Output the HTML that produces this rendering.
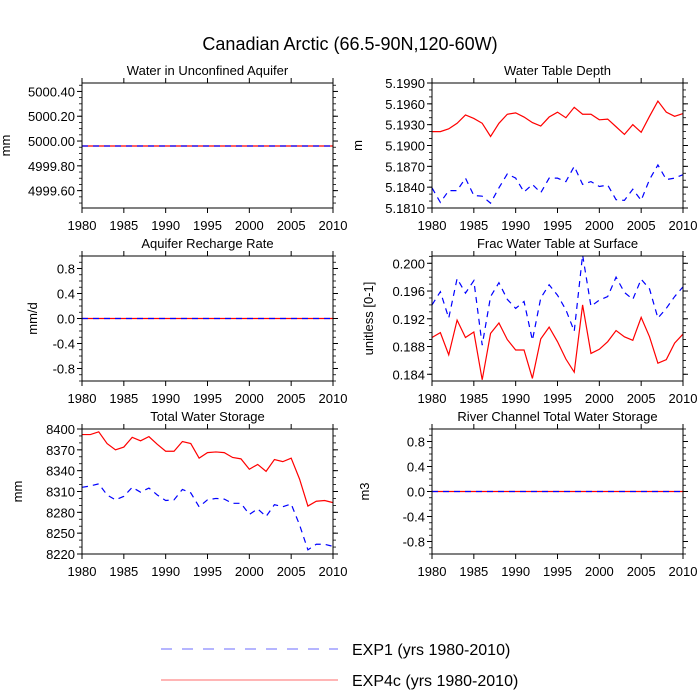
<!DOCTYPE html>
<html><head><meta charset="utf-8"><style>
html,body{margin:0;padding:0;background:#fff;}
svg{display:block;font-family:"Liberation Sans",Arial,sans-serif;}
</style></head><body>
<svg id="chart" width="700" height="700" viewBox="0 0 700 700" xmlns="http://www.w3.org/2000/svg">
<text x="350" y="50" text-anchor="middle" font-size="18">Canadian Arctic (66.5-90N,120-60W)</text>
<g id="panels"></g>
<g>
<line x1="161" y1="649" x2="338" y2="649" stroke="#6b6bff" stroke-width="1" stroke-dasharray="11,10"/>
<text x="352" y="655" font-size="16">EXP1 (yrs 1980-2010)</text>
<line x1="161" y1="680" x2="338" y2="680" stroke="#ff6b6b" stroke-width="1"/>
<text x="352" y="686" font-size="16">EXP4c (yrs 1980-2010)</text>
</g>
</svg>
<script>
const years = [];
for (let y = 1980; y <= 2010; y++) years.push(y);
const xTickLabels = [1980,1985,1990,1995,2000,2005,2010];

const aquiferExp1 = Array(31).fill(4999.96);
const aquiferExp4c = Array(31).fill(4999.96);
const rechargeExp1 = Array(31).fill(0);
const rechargeExp4c = Array(31).fill(0);
const riverExp1 = Array(31).fill(0);
const riverExp4c = Array(31).fill(0);

const wtdExp4c = [5.1920,5.1920,5.1924,5.1932,5.1944,5.1939,5.1932,5.1913,5.1932,5.1945,5.1947,5.1941,5.1933,5.1928,5.1941,5.1948,5.1940,5.1955,5.1945,5.1945,5.1937,5.1938,5.1927,5.1916,5.1930,5.1919,5.1942,5.1964,5.1948,5.1942,5.1946];
const wtdExp1 = [5.1839,5.1818,5.1835,5.1835,5.1853,5.1828,5.1827,5.1817,5.1839,5.1859,5.1853,5.1833,5.1844,5.1832,5.1853,5.1853,5.1848,5.1870,5.1844,5.1848,5.1841,5.1843,5.1822,5.1821,5.1837,5.1821,5.1851,5.1872,5.1851,5.1853,5.1858];

const fracExp1 = [0.1940,0.1959,0.1921,0.1978,0.1957,0.1975,0.1882,0.1952,0.1972,0.1948,0.1935,0.1945,0.1889,0.1950,0.1969,0.1954,0.1933,0.1902,0.2012,0.1938,0.1947,0.1952,0.1980,0.1958,0.1948,0.1977,0.1963,0.1921,0.1935,0.1952,0.1966];
const fracExp4c = [0.1893,0.1900,0.1868,0.1918,0.1893,0.1901,0.1832,0.1899,0.1914,0.1890,0.1875,0.1875,0.1834,0.1891,0.1908,0.1887,0.1862,0.1843,0.1940,0.1870,0.1876,0.1887,0.1903,0.1894,0.1889,0.1922,0.1894,0.1856,0.1861,0.1885,0.1898];

const twsExp4c = [8392,8392,8396,8379,8370,8374,8388,8383,8389,8378,8368,8368,8382,8379,8358,8366,8367,8366,8359,8357,8342,8349,8339,8356,8353,8358,8328,8289,8296,8297,8294];
const twsExp1 = [8316,8318,8321,8305,8298,8303,8316,8309,8315,8305,8297,8298,8313,8308,8288,8298,8300,8299,8293,8293,8277,8285,8274,8291,8288,8292,8262,8226,8234,8234,8231];

const aquiferTicks = ["4999.60","4999.80","5000.00","5000.20","5000.40"];
const wtdTicks = ["5.1810","5.1840","5.1870","5.1900","5.1930","5.1960","5.1990"];
const zeroTicks = ["-0.8","-0.4","0.0","0.4","0.8"];
const fracTicks = ["0.184","0.188","0.192","0.196","0.200"];
const twsTicks = ["8220","8250","8280","8310","8340","8370","8400"];

const NS = "http://www.w3.org/2000/svg";
const root = document.getElementById('panels');
function mk(tag, attrs, parent){ const e=document.createElementNS(NS,tag); for(const k in attrs) e.setAttribute(k,attrs[k]); (parent||root).appendChild(e); return e; }

const panels = [
 {id:'aquifer', title:'Water in Unconfined Aquifer', unit:'mm', ux:10, x0:82,x1:333,y0:83,y1:208, ymin:4999.46, ymax:5000.468, ticks:aquiferTicks, minor:0.05, e1:aquiferExp1, e4:aquiferExp4c},
 {id:'water-table-depth', title:'Water Table Depth', unit:'m', ux:362, x0:432,x1:683,y0:83,y1:208, ymin:5.1810, ymax:5.1990, ticks:wtdTicks, minor:0.001, e1:wtdExp1, e4:wtdExp4c},
 {id:'recharge', title:'Aquifer Recharge Rate', unit:'mm/d', ux:37, x0:82,x1:333,y0:256,y1:381, ymin:-1, ymax:1, ticks:zeroTicks, minor:0.1, e1:rechargeExp1, e4:rechargeExp4c},
 {id:'frac-water-table', title:'Frac Water Table at Surface', unit:'unitless [0-1]', ux:373, x0:432,x1:683,y0:256,y1:381, ymin:0.18303, ymax:0.20105, ticks:fracTicks, minor:0.001, e1:fracExp1, e4:fracExp4c},
 {id:'total-water-storage', title:'Total Water Storage', unit:'mm', ux:22, x0:82,x1:333,y0:429,y1:554, ymin:8220, ymax:8400, ticks:twsTicks, minor:10, e1:twsExp1, e4:twsExp4c},
 {id:'river-storage', title:'River Channel Total Water Storage', unit:'m3', ux:369, x0:432,x1:683,y0:429,y1:554, ymin:-1, ymax:1, ticks:zeroTicks, minor:0.1, e1:riverExp1, e4:riverExp4c}
];

panels.forEach(p=>{
  const g = mk('g',{});
  
  
  const xs = v => p.x0 + (v-1980)/30*(p.x1-p.x0);
  const ys = v => p.y1 - (v-p.ymin)/(p.ymax-p.ymin)*(p.y1-p.y0);
  const t = mk('text',{x:(p.x0+p.x1)/2, y:p.y0-8, 'text-anchor':'middle','font-size':13},g);
  t.textContent = p.title;
  
  
  const start = Math.ceil(p.ymin/p.minor - 1e-6);
  for(let k=start; k*p.minor<=p.ymax+1e-9; k++){
    const yy = ys(k*p.minor);
    mk('line',{x1:p.x0-3,x2:p.x0,y1:yy,y2:yy,stroke:'#000','stroke-width':0.8},g);
    mk('line',{x1:p.x1,x2:p.x1+3,y1:yy,y2:yy,stroke:'#000','stroke-width':0.8},g);
  }
  p.ticks.forEach(lbl=>{
    const yy = ys(parseFloat(lbl));
    mk('line',{x1:p.x0-5,x2:p.x0,y1:yy,y2:yy,stroke:'#000','stroke-width':1},g);
    mk('line',{x1:p.x1,x2:p.x1+5,y1:yy,y2:yy,stroke:'#000','stroke-width':1},g);
    const tl = mk('text',{x:p.x0-7,y:yy+5,'text-anchor':'end','font-size':13},g);
    tl.textContent = lbl;
    
    
  });
  xTickLabels.forEach(v=>{
    const xx = xs(v);
    mk('line',{x1:xx,x2:xx,y1:p.y1,y2:p.y1+5,stroke:'#000','stroke-width':1},g);
    mk('line',{x1:xx,x2:xx,y1:p.y0-5,y2:p.y0,stroke:'#000','stroke-width':1},g);
    const tl = mk('text',{x:xx,y:p.y1+22,'text-anchor':'middle','font-size':13},g);
    tl.textContent = v;
    
    
  });
  const cy = (p.y0+p.y1)/2;
  const ut = mk('text',{x:p.ux,y:cy,'text-anchor':'middle','font-size':13,transform:`rotate(-90 ${p.ux} ${cy})`},g);
  ut.textContent = p.unit;
  
  
  const pts = arr => arr.map((v,i)=>xs(years[i]).toFixed(2)+','+ys(v).toFixed(2)).join(' ');
  const r = mk('polyline',{points:pts(p.e4),fill:'none',stroke:'#ff0000','stroke-width':1.2},g);
  
  
  const b = mk('polyline',{points:pts(p.e1),fill:'none',stroke:'#0000ff','stroke-width':1.2,'stroke-dasharray':'6,5'},g);
  
  
  mk('rect',{x:p.x0,y:p.y0,width:p.x1-p.x0,height:p.y1-p.y0,fill:'none',stroke:'#000','stroke-width':1},g);
});
</script>
</body></html>
